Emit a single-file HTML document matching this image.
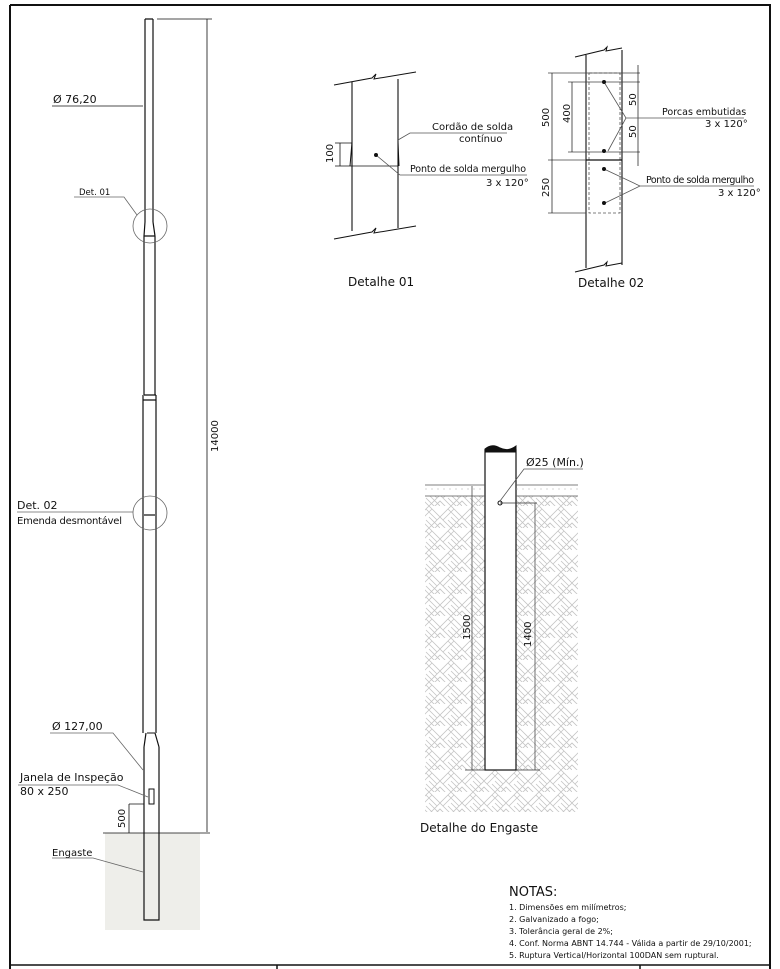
<!DOCTYPE html>
<html><head><meta charset="utf-8"><style>
body{margin:0;background:#fff}
svg{display:block}
text{font-family:"DejaVu Sans","Liberation Sans",sans-serif;fill:#111}
</style></head><body>
<svg width="780" height="969" viewBox="0 0 780 969" xmlns="http://www.w3.org/2000/svg">
<defs>
<pattern id="h" width="22" height="22" patternUnits="userSpaceOnUse">
<path d="M0 11 L11 0 M3 14 L14 3 M11 22 L22 11 M14 25 L25 14 M11 11 L22 22 M8 14 L19 25 M0 11 L11 22 M-3 14 L8 25 M11 0 L22 11 M8 3 L19 14" stroke="#c4c4c4" stroke-width="0.8" fill="none"/>
</pattern>
</defs>
<g fill="none" stroke="#111">
<path d="M10 5 H770 V969 M10 5 V969" stroke-width="2"/>
<path d="M10 965 H770 M277 965 V969 M640 965 V969" stroke-width="1.5"/>

<rect x="105" y="833" width="95" height="97" fill="#eeeeea" stroke="none"/>
<path d="M145 19 H153 M145 19 V222 M153 19 V222 M145 222 L144 236 M153 222 L155 236 M144 236 H155 M144 236 V395 M155 236 V395 M144 395 H156 M143 400 H156 M143 395 V733 M156 395 V733 M146 733 L144 747 M155 733 L159 747 M144 747 V920 H159 V747" stroke-width="1.2"/>
<path d="M147 733 H155" stroke-width="1"/>
<path d="M144 515 H155" stroke-width="1.2"/>
<path d="M157 19 H212 M207 19 V832 M103 833 H210" stroke-width="0.8"/>
<path d="M52 106 H143" stroke-width="0.8"/>
<circle cx="150" cy="226" r="17" stroke="#666" stroke-width="0.8"/>
<circle cx="150" cy="513" r="17" stroke="#666" stroke-width="0.8"/>
<path d="M74 197 H124 L137 215" stroke="#666" stroke-width="0.8"/>
<path d="M17 512 H133" stroke="#666" stroke-width="0.8"/>
<path d="M50 733 H113 L143 770" stroke="#666" stroke-width="0.8"/>
<path d="M18 785 H118 L148 797" stroke="#666" stroke-width="0.8"/>
<rect x="149" y="789" width="5" height="15" stroke-width="1"/>
<path d="M129 804 H144 M129 833 V804" stroke-width="0.8"/>
<path d="M52 858 H93 L143 872" stroke="#666" stroke-width="0.8"/>

<path d="M334 85 L372 78 L376 74 L374 79 L416 72 M334 239 L372 232 L376 228 L374 233 L416 226" stroke-width="1"/>
<path d="M352 82 V231 M398 79 V228" stroke-width="1.1"/>
<path d="M352 142 L350 166 M398 142 L399 166" stroke-width="1"/>
<path d="M335 143 H352 M335 166 H398" stroke-width="0.8"/>
<path d="M340 143 V166" stroke-width="0.8"/>
<path d="M398 140 L410 133 H507 M376 155 L400 175 H527" stroke="#555" stroke-width="0.8"/>
<circle cx="376" cy="155" r="1.5" fill="#111"/>

<path d="M575 57 L604 50 L607 47 L606 51 L622 48 M575 272 L604 265 L607 262 L606 266 L622 263" stroke-width="1"/>
<path d="M586 55 V268 M622 50 V265" stroke-width="1.1"/>
<rect x="589" y="73" width="31" height="140" stroke-dasharray="3,2" stroke-width="0.8" stroke="#555"/>
<path d="M586 160 H622" stroke-width="1.2"/>
<path d="M548 73 H640 M568 82 H640 M568 152 H640 M548 160 H586 M548 213 H586" stroke-width="0.7" stroke="#444"/>
<path d="M552 73 V213 M572 82 V152 M638 65 V166" stroke-width="0.7"/>
<path d="M604 82 L626 118 L608 151 M626 118 H744" stroke="#555" stroke-width="0.8"/>
<path d="M604 169 L640 186 L605 203 M640 186 H754" stroke="#555" stroke-width="0.8"/>
<circle cx="604" cy="82" r="1.5" fill="#111"/><circle cx="604" cy="151" r="1.5" fill="#111"/>
<circle cx="604" cy="169" r="1.5" fill="#111"/><circle cx="604" cy="203" r="1.5" fill="#111"/>

<rect x="425" y="496" width="153" height="316" fill="url(#h)" stroke="none"/>
<rect x="485" y="450" width="31" height="320" fill="#fff" stroke="#111" stroke-width="1.2"/>
<path d="M485 449 Q492 443 500 448 Q508 452 516 446 L516 452 H485 Z" fill="#111" stroke="#111"/>
<path d="M425 485 H485 M516 485 H578 M425 496 H485 M516 496 H578" stroke-width="0.8" stroke="#555"/>
<path d="M425 489 H485 M516 489 H578" stroke-width="0.6" stroke="#aaa" stroke-dasharray="2,4"/>
<path d="M472 486 V770 M535 503 V770 M500 503 H537 M465 770 H485 M516 770 H540" stroke-width="0.7" stroke="#333"/>
<circle cx="500" cy="503" r="2" stroke-width="1"/>
<path d="M500 501 L524 469 H583" stroke="#555" stroke-width="0.8"/>
</g>

<g>
<text x="53" y="103" font-size="11">Ø 76,20</text>
<text x="79" y="195" font-size="8.5">Det. 01</text>
<text x="17" y="509" font-size="11">Det. 02</text>
<text x="17" y="524" font-size="10" textLength="105">Emenda desmontável</text>
<text x="52" y="730" font-size="11">Ø 127,00</text>
<text x="20" y="781" font-size="11">Janela de Inspeção</text>
<text x="20" y="795" font-size="11">80 x 250</text>
<text x="52" y="856" font-size="10">Engaste</text>
<text transform="translate(125,828) rotate(-90)" font-size="10">500</text>
<text transform="translate(218,452) rotate(-90)" font-size="10">14000</text>

<text x="432" y="130" font-size="10">Cordão de solda</text>
<text x="459" y="142" font-size="10">contínuo</text>
<text x="410" y="172" font-size="9.5" textLength="116">Ponto de solda mergulho</text>
<text x="486" y="186" font-size="10">3 x 120°</text>
<text transform="translate(333,163) rotate(-90)" font-size="10">100</text>
<text x="348" y="286" font-size="12">Detalhe 01</text>

<text x="662" y="115" font-size="9.5">Porcas embutidas</text>
<text x="705" y="127" font-size="10">3 x 120°</text>
<text x="646" y="183" font-size="9.5" textLength="108">Ponto de solda mergulho</text>
<text x="718" y="196" font-size="10">3 x 120°</text>
<text transform="translate(549,127) rotate(-90)" font-size="10">500</text>
<text transform="translate(570,123) rotate(-90)" font-size="10">400</text>
<text transform="translate(549,197) rotate(-90)" font-size="10">250</text>
<text transform="translate(636,106) rotate(-90)" font-size="10">50</text>
<text transform="translate(636,138) rotate(-90)" font-size="10">50</text>
<text x="578" y="287" font-size="12">Detalhe 02</text>

<text x="526" y="466" font-size="11">Ø25 (Mín.)</text>
<text transform="translate(470,640) rotate(-90)" font-size="10">1500</text>
<text transform="translate(531,647) rotate(-90)" font-size="10">1400</text>
<text x="420" y="832" font-size="12">Detalhe do Engaste</text>

<text x="509" y="896" font-size="13">NOTAS:</text>
<text x="509" y="910" font-size="8">1. Dimensões em milímetros;</text>
<text x="509" y="922" font-size="8">2. Galvanizado a fogo;</text>
<text x="509" y="934" font-size="8">3. Tolerância geral de 2%;</text>
<text x="509" y="946" font-size="8">4. Conf. Norma ABNT 14.744 - Válida a partir de 29/10/2001;</text>
<text x="509" y="958" font-size="8">5. Ruptura Vertical/Horizontal 100DAN sem ruptural.</text>
</g>
</svg>
</body></html>
